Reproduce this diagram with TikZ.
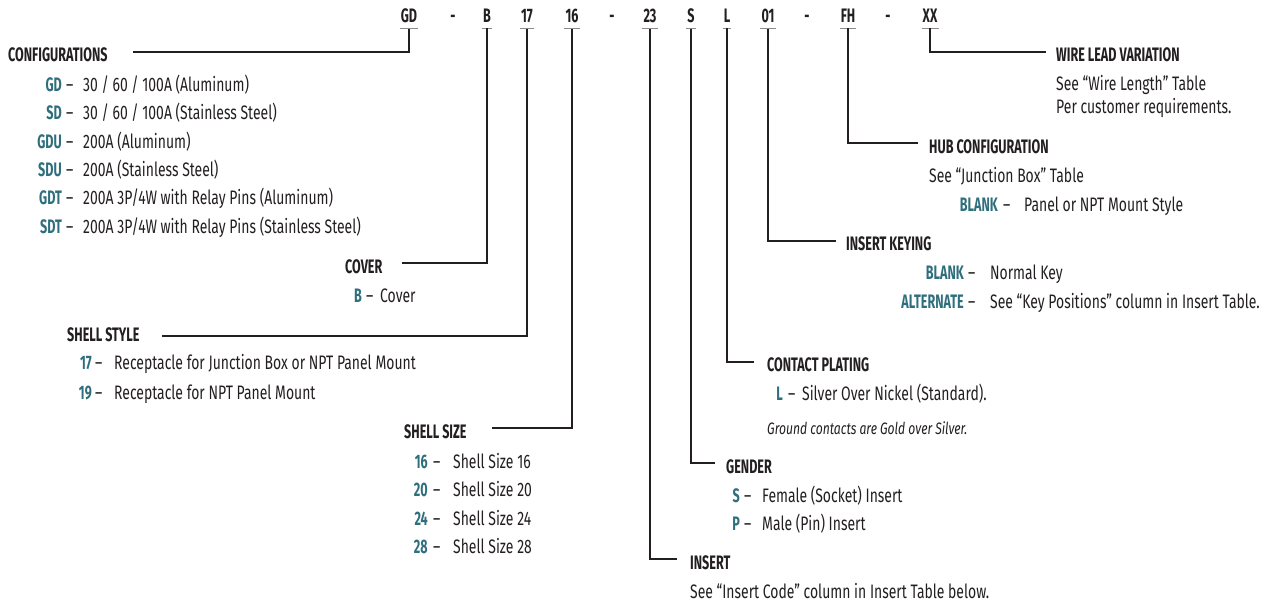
\documentclass[tikz,border=0pt]{standalone}
\usepackage{fontspec}
\setmainfont{Fira Sans}[FakeStretch=0.715]
\newfontfamily\regf{Fira Sans}[FakeStretch=0.715]
\newfontfamily\itf{Fira Sans}[FakeStretch=0.735]
\newfontfamily\boldf{Fira Sans}[FakeStretch=0.645]
\definecolor{ink}{HTML}{231F20}
\definecolor{tealc}{HTML}{2F6F7D}
\definecolor{tickc}{HTML}{8A8A8A}
\tikzset{
  codest/.style={font=\boldf\bfseries\fontsize{19.5}{22}\selectfont, text=ink, inner sep=0pt, anchor=base},
  headst/.style={font=\boldf\bfseries\fontsize{19.5}{22}\selectfont, text=ink, inner sep=0pt, anchor=base west},
  keyst/.style={font=\boldf\bfseries\fontsize{19.5}{22}\selectfont, text=tealc, inner sep=0pt, anchor=base east},
  descst/.style={font=\regf\fontsize{19.5}{22}\selectfont, text=ink, inner sep=0pt, anchor=base west},
  notest/.style={font=\itf\itshape\fontsize{16.5}{19}\selectfont, text=ink, inner sep=0pt, anchor=base west},
  conn/.style={draw=ink, line width=2.6pt},
  tickst/.style={draw=tickc, line width=1.3pt}
}
\newcommand\optrow[7]{%
  \node[keyst] (#1k) at (#3,#2) {#6};
  \node[descst] (#1d) at (#4,#2) {\makebox[\dimexpr#5pt-#4pt\relax][l]{–}#7};}
\newcommand\codetick[1]{\draw[tickst] ([xshift=-1pt,yshift=-5pt]#1.south west) -- ([xshift=1pt,yshift=-5pt]#1.south east);}
\begin{document}
\begin{tikzpicture}[x=1pt,y=-1pt]
\useasboundingbox (0,0) rectangle (1271,605);
% code row
\node[codest] (cGD) at (409,23) {GD};
\node[codest] (dA) at (453,23) {-};
\node[codest] (cB) at (487,23) {B};
\node[codest] (c17) at (527,23) {17};
\node[codest] (c16) at (572,23) {16};
\node[codest] (dB) at (612,23) {-};
\node[codest] (c23) at (650,23) {23};
\node[codest] (cS) at (691,23) {S};
\node[codest] (cL) at (727,23) {L};
\node[codest] (c01) at (768,23) {01};
\node[codest] (dC) at (807,23) {-};
\node[codest] (cFH) at (848,23) {FH};
\node[codest] (dD) at (888,23) {-};
\node[codest] (cXX) at (930,23) {XX};
\codetick{cGD}\codetick{cB}\codetick{c17}\codetick{c16}\codetick{c23}
\codetick{cS}\codetick{cL}\codetick{c01}\codetick{cFH}\codetick{cXX}
% elbow ends
\coordinate (eConf) at (133,52);
\coordinate (eCover) at (402,263);
\coordinate (eStyle) at (162,336);
\coordinate (eSize) at (492,428);
\coordinate (eInsert) at (677,559);
\coordinate (eGender) at (715,463);
\coordinate (eContact) at (754,362);
\coordinate (eKey) at (836,241);
\coordinate (eHub) at (918,143);
\coordinate (eWire) at (1046,52);
\draw[conn] ([yshift=-5pt]cGD.south) |- (eConf);
\draw[conn] ([yshift=-5pt]cB.south) |- (eCover);
\draw[conn] ([yshift=-5pt]c17.south) |- (eStyle);
\draw[conn] ([yshift=-5pt]c16.south) |- (eSize);
\draw[conn] ([yshift=-5pt]c23.south) |- (eInsert);
\draw[conn] ([yshift=-5pt]cS.south) |- (eGender);
\draw[conn] ([yshift=-5pt]cL.south) |- (eContact);
\draw[conn] ([yshift=-5pt]c01.south) |- (eKey);
\draw[conn] ([yshift=-5pt]cFH.south) |- (eHub);
\draw[conn] ([yshift=-5pt]cXX.south) |- (eWire);
% headings
\node[headst] (hConf) at (8,61.5) {CONFIGURATIONS};
\node[headst] (hCover) at (345,273) {COVER};
\node[headst] (hStyle) at (67,341.5) {SHELL STYLE};
\node[headst] (hSize) at (404,438.5) {SHELL SIZE};
\node[headst] (hInsert) at (690,569.5) {INSERT};
\node[headst] (hGender) at (726,473.5) {GENDER};
\node[headst] (hContact) at (767,371.5) {CONTACT PLATING};
\node[headst] (hKey) at (846,250.5) {INSERT KEYING};
\node[headst] (hHub) at (929,153.5) {HUB CONFIGURATION};
\node[headst] (hWire) at (1056,61.5) {WIRE LEAD VARIATION};
% configurations
\optrow{cfa}{91.5}{62}{66}{83}{GD}{30 / 60 / 100A (Aluminum)}
\optrow{cfb}{119.5}{62}{66}{83}{SD}{30 / 60 / 100A (Stainless Steel)}
\optrow{cfc}{148.5}{62}{66}{83}{GDU}{200A (Aluminum)}
\optrow{cfd}{176.5}{62}{66}{83}{SDU}{200A (Stainless Steel)}
\optrow{cfe}{204.5}{62}{66}{83}{GDT}{200A 3P/4W with Relay Pins (Aluminum)}
\optrow{cff}{233.5}{62}{66}{83}{SDT}{200A 3P/4W with Relay Pins (Stainless Steel)}
% cover
\optrow{cva}{302.5}{362}{366}{380}{B}{Cover}
% shell style
\optrow{ssa}{369.5}{92}{95}{114}{17}{Receptacle for Junction Box or NPT Panel Mount}
\optrow{ssb}{399.5}{92}{95}{114}{19}{Receptacle for NPT Panel Mount}
% shell size
\optrow{sza}{468.5}{428}{433}{453}{16}{Shell Size 16}
\optrow{szb}{496.5}{428}{433}{453}{20}{Shell Size 20}
\optrow{szc}{525.5}{428}{433}{453}{24}{Shell Size 24}
\optrow{szd}{553.5}{428}{433}{453}{28}{Shell Size 28}
% gender
\optrow{gna}{502.5}{740}{744}{762}{S}{Female (Socket) Insert}
\optrow{gnb}{530.5}{740}{744}{762}{P}{Male (Pin) Insert}
% contact plating
\optrow{cpa}{400.5}{783}{788}{802}{L}{Silver Over Nickel (Standard).}
\node[notest] (cpn) at (767,434) {Ground contacts are Gold over Silver.};
% insert keying
\optrow{kya}{279.5}{964}{968}{990}{BLANK}{Normal Key}
\optrow{kyb}{308.5}{964}{968}{990}{ALTERNATE}{See “Key Positions” column in Insert Table.}
% hub
\node[descst] (hba) at (929,182.5) {See “Junction Box” Table};
\optrow{hbb}{211.5}{998}{1003}{1024}{BLANK}{Panel or NPT Mount Style}
% wire
\node[descst] (wla) at (1056,90.5) {See “Wire Length” Table};
\node[descst] (wlb) at (1056,113.5) {Per customer requirements.};
% insert
\node[descst] (ina) at (690,598.5) {See “Insert Code” column in Insert Table below.};
\end{tikzpicture}
\end{document}
